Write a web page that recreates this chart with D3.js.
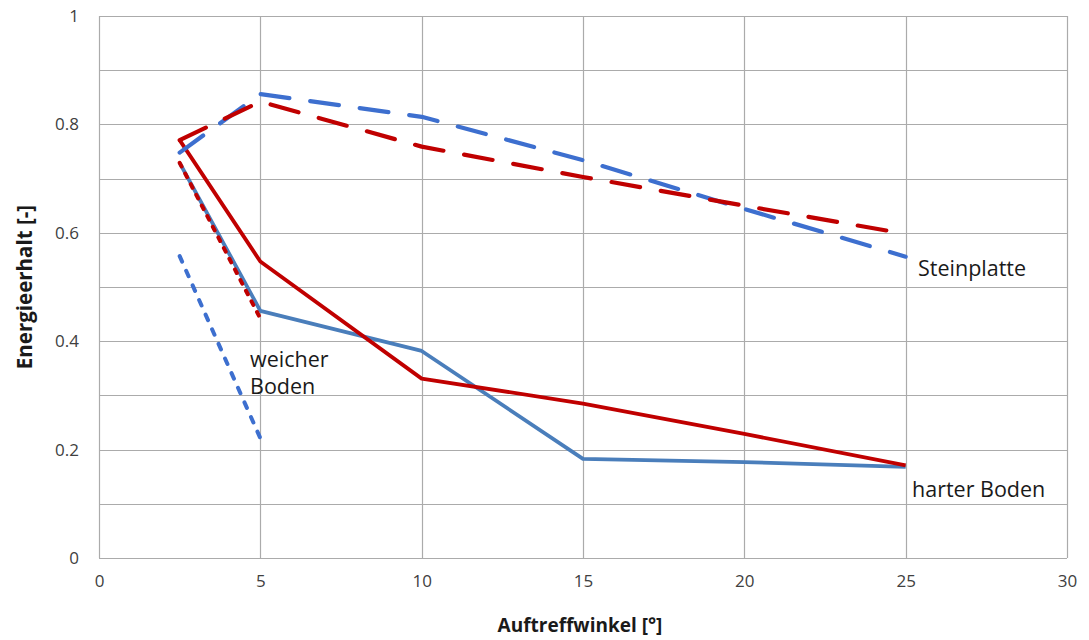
<!DOCTYPE html>
<html><head><meta charset="utf-8">
<script src="https://cdn.jsdelivr.net/npm/d3@7"></script>
<style>body{margin:0;background:#fff}svg{display:block}text{font-family:"Open Sans","Liberation Sans",sans-serif}</style>
</head><body><svg id="c" width="1089" height="640"></svg>
<script>
const xTicks=[0,5,10,15,20,25,30];
const yTicks=[0,0.2,0.4,0.6,0.8,1];
const yTickLabels=["0","0.2","0.4","0.6","0.8","1"];
const stoneX=[2.5,5,10,15,20,25];
const stoneBlue=[0.748,0.856,0.814,0.734,0.644,0.556];
const stoneRed=[0.771,0.842,0.759,0.703,0.65,0.598];
const hardX=[2.5,5,10,15,20,25];
const hardBlue=[0.729,0.456,0.382,0.183,0.177,0.168];
const hardRed=[0.771,0.547,0.331,0.285,0.229,0.171];
const softX=[2.5,5];
const softBlue=[0.557,0.221];
const softRed=[0.729,0.442];

const svg=d3.select("#c");
const x=d3.scaleLinear().domain([0,30]).range([99,1067]);
const y=d3.scaleLinear().domain([0,1]).range([558,16]);
const g=svg.append("g");
g.selectAll(".hg").data(d3.range(0,1.0001,0.1)).join("line")
 .attr("x1",x(0)).attr("x2",x(30)).attr("y1",d=>Math.round(y(d))+0.5).attr("y2",d=>Math.round(y(d))+0.5)
 .attr("stroke","#ababab").attr("stroke-width",1.2);
g.selectAll(".vg").data(xTicks).join("line")
 .attr("y1",y(0)).attr("y2",y(1)).attr("x1",d=>Math.round(x(d))+0.5).attr("x2",d=>Math.round(x(d))+0.5)
 .attr("stroke","#ababab").attr("stroke-width",1.2);
const xa=svg.append("g").attr("transform",`translate(0,${y(0)})`).call(d3.axisBottom(x).tickValues(xTicks).tickSize(0).tickPadding(17).tickFormat(d3.format("d")));
xa.select(".domain").remove();
xa.selectAll("text").attr("font-size",17).attr("fill","#404040");
const ya=svg.append("g").attr("transform",`translate(${x(0)},0)`).call(d3.axisLeft(y).tickValues(yTicks).tickSize(0).tickPadding(20).tickFormat((d,i)=>yTickLabels[i]));
ya.select(".domain").remove();
ya.selectAll("text").attr("font-size",17).attr("fill","#404040");

const line=d3.line().x(d=>x(d[0])).y(d=>y(d[1]));
function draw(xs,ys,color,w,dash){
  svg.append("path").datum(xs.map((v,i)=>[v,ys[i]])).attr("d",line)
   .attr("fill","none").attr("stroke",color).attr("stroke-width",w)
   .attr("stroke-linecap",dash?"round":"butt").attr("stroke-linejoin","round")
   .attr("stroke-dasharray",dash||null);
}
draw(hardX,hardBlue,"#4a7ebb",3.8,null);
draw(hardX,hardRed,"#c00000",3.8,null);
draw(softX,softRed,"#c00000",4,"4,8");
draw(softX,softBlue,"#3d6fcf",4,"6,10");
draw(stoneX,stoneBlue,"#3d6fcf",4.2,"29,21");
draw(stoneX,stoneRed,"#c00000",4.2,"29,21");

function label(t,px,py){svg.append("text").attr("x",px).attr("y",py).attr("font-size",21.5).attr("fill","#1a1a1a").text(t);}
label("Steinplatte",918,276);
label("harter Boden",912,497);
label("weicher",250,367);
label("Boden",250,394);

svg.append("text").attr("x",580).attr("y",632).attr("text-anchor","middle").attr("font-size",19).attr("font-weight","bold").attr("fill","#1a1a1a").text("Auftreffwinkel [°]");
svg.append("text").attr("transform","translate(32,287) rotate(-90)").attr("text-anchor","middle").attr("font-size",20.5).attr("font-weight","bold").attr("fill","#1a1a1a").text("Energieerhalt  [-]");
</script></body></html>
